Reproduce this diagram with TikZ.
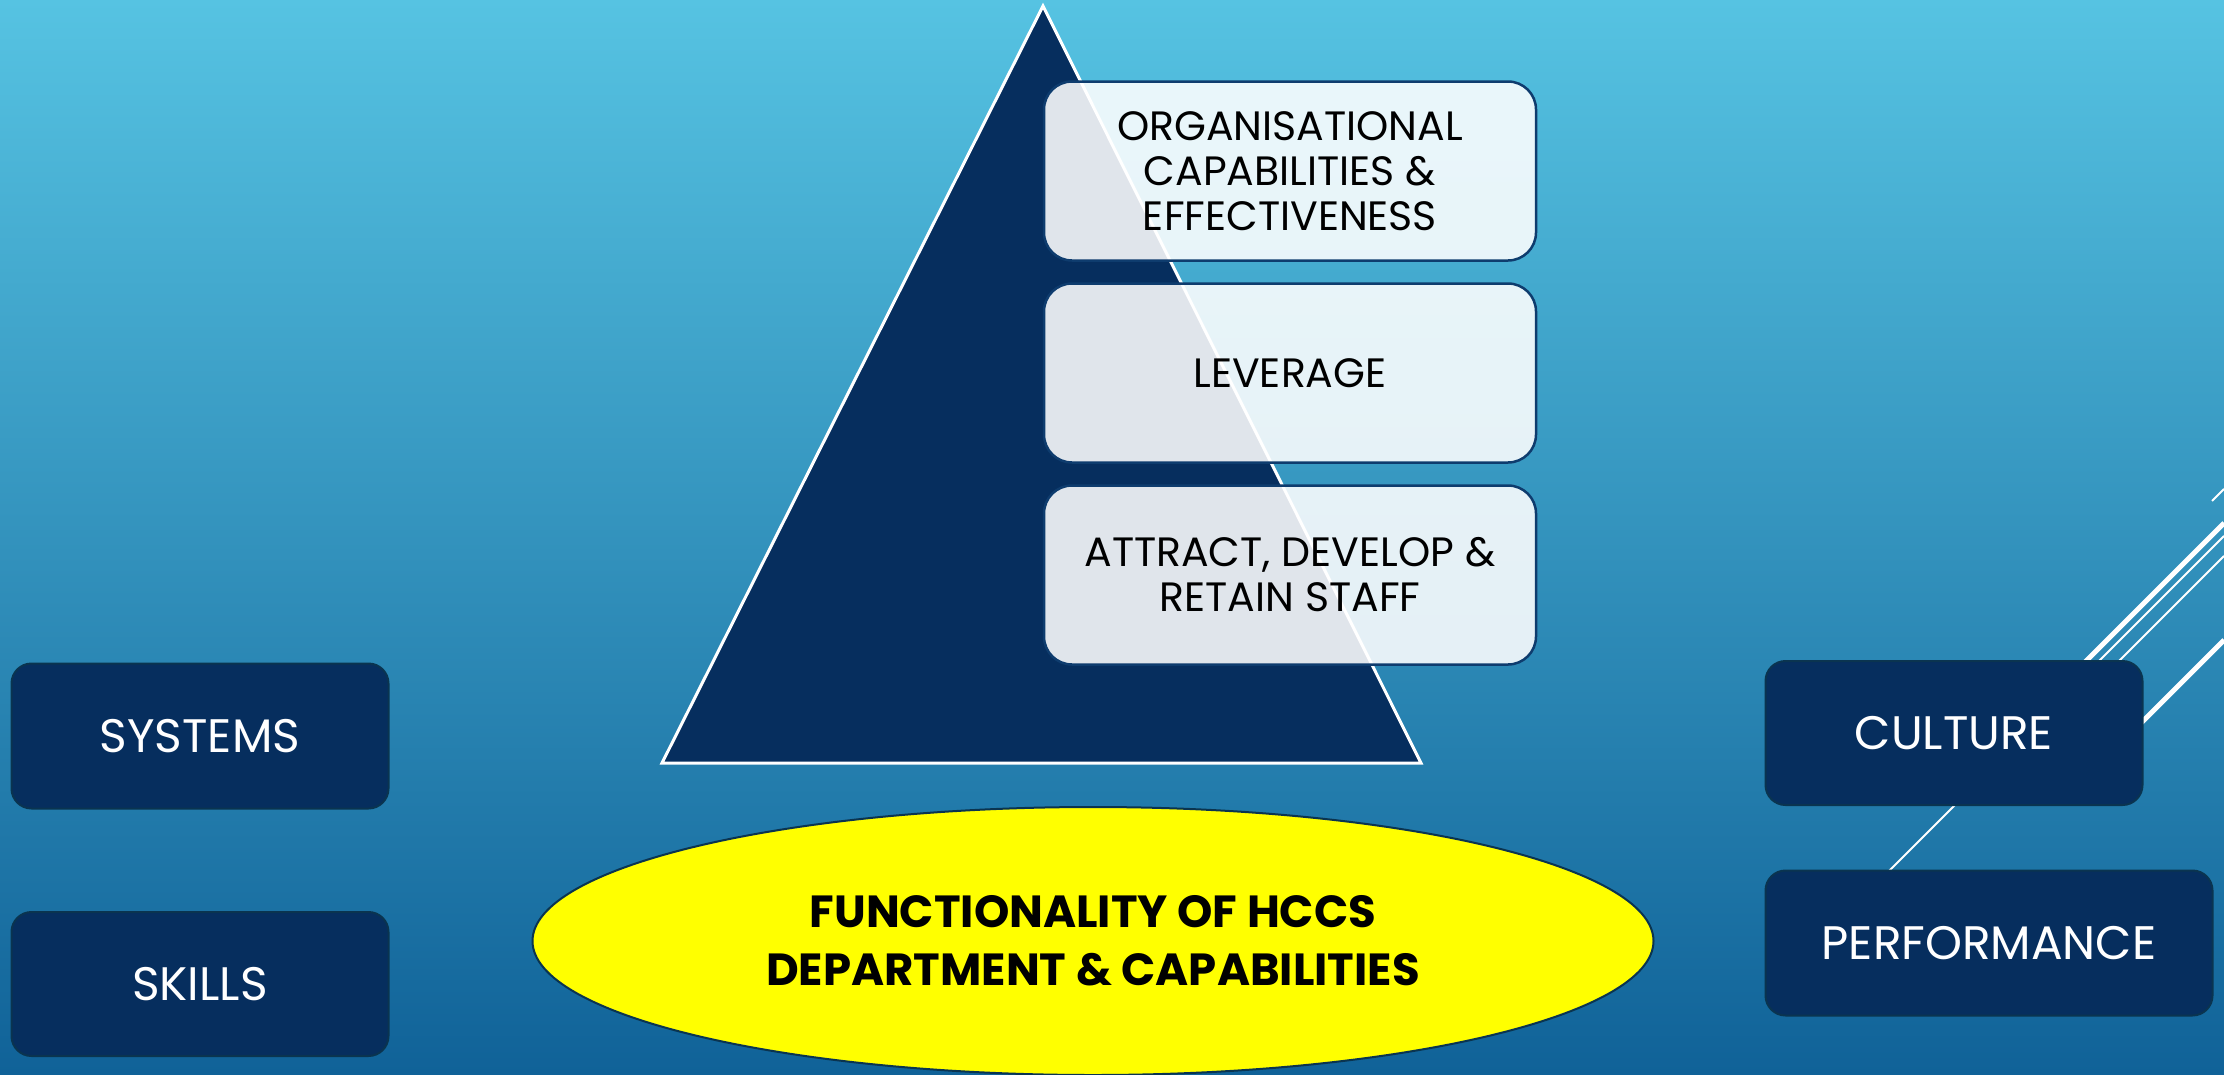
\documentclass[tikz,border=0pt]{standalone}
\usepackage{fontspec}
\setmainfont{Poppins}
\usetikzlibrary{shapes.geometric}
\definecolor{skytop}{RGB}{86,195,226}
\definecolor{skybottom}{RGB}{16,98,152}
\definecolor{navy}{RGB}{6,46,94}
\definecolor{navyedge}{RGB}{10,52,80}
\definecolor{paleedge}{RGB}{14,60,110}
\definecolor{hiyellow}{RGB}{255,255,0}
\tikzset{
  darkbox/.style={draw=navyedge,line width=2pt,fill=navy,rounded corners=20pt,inner sep=0pt,
    text=white,font=\fontsize{47}{56}\selectfont},
  palebox/.style={draw=paleedge,line width=2.5pt,fill=white,fill opacity=0.88,text opacity=1,
    rounded corners=28pt,minimum width=492pt,minimum height=179pt,inner sep=0pt,align=center,
    font=\fontsize{41}{45}\selectfont},
  stripe/.style={white,line width=#1},
}
\begin{document}
\begin{tikzpicture}[x=1pt,y=-1pt]
 \useasboundingbox (0,0) rectangle (2224,1074);
 \shade[top color=skytop,bottom color=skybottom] (0,0) rectangle (2224,1074);
 \draw[stripe=2pt] (2212,501) -- (2224,489);
 \draw[stripe=5pt] (2027,720) -- (2224,523);
 \draw[stripe=2pt] (1860,900) -- (2224,536);
 \draw[stripe=2pt] (2060,720) -- (2224,556);
 \draw[stripe=5pt] (2104,760) -- (2224,640);
 \draw[white,line width=3pt,fill=navy] (1043,6) -- (1421,763) -- (662,763) -- cycle;
 \node[palebox] (orgcap) at (1290,171) {ORGANISATIONAL\\CAPABILITIES \&\\EFFECTIVENESS};
 \node[palebox] (leverage) at (1290,373) {LEVERAGE};
 \node[palebox] (attract) at (1290,575) {ATTRACT, DEVELOP \&\\RETAIN STAFF};
 \node[darkbox,minimum width=377pt,minimum height=145pt] (systems) at (200,736) {SYSTEMS};
 \node[darkbox,minimum width=377pt,minimum height=144pt] (skills) at (200,984) {SKILLS};
 \node[darkbox,minimum width=377pt,minimum height=144pt] (culture) at (1954,733) {CULTURE};
 \node[darkbox,minimum width=447pt,minimum height=145pt] (performance) at (1989,943) {PERFORMANCE};
 \node[ellipse,draw=navyedge,line width=2pt,fill=hiyellow,minimum width=1121pt,minimum height=268pt,
   inner sep=0pt,align=center,font=\bfseries\fontsize{45}{58}\selectfont] (hccs) at (1093,941)
   {FUNCTIONALITY OF HCCS\\DEPARTMENT \& CAPABILITIES};
\end{tikzpicture}
\end{document}
